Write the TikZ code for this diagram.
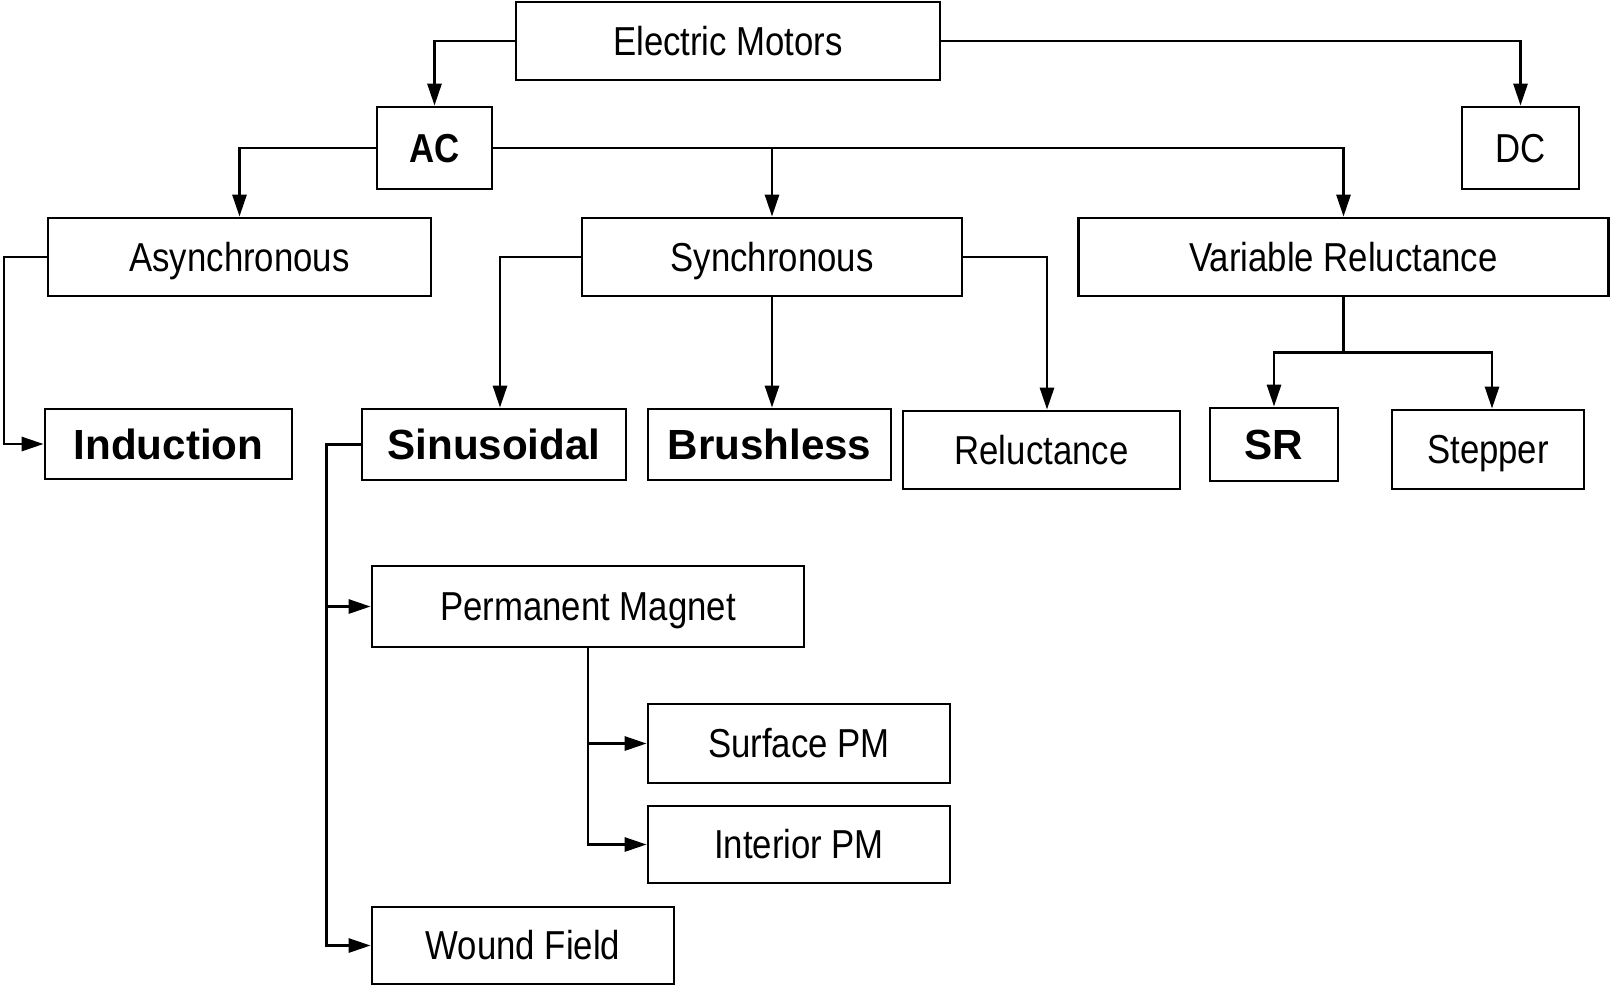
\documentclass[tikz,border=0pt]{standalone}
\usepackage{fontspec}
\setmainfont{Liberation Sans}
\newfontfamily\narrowsf{Liberation Sans}[FakeStretch=0.86]
\usepackage{tikz}
\usetikzlibrary{arrows.meta}
\usepackage{xcolor}

\begin{document}
\begin{tikzpicture}[x=0.02cm,y=-0.02cm,>={Triangle[length=0.44cm,width=0.28cm]},
  box/.style={draw,line width=1.6pt,inner sep=0pt},
  lbl/.style={box,font=\narrowsf\fontsize{23}{26}\selectfont,text height=20pt,text depth=3.6pt},
  blbl/.style={box,font=\bfseries\fontsize{24}{28}\selectfont,text height=21pt,text depth=3.8pt},
  conn/.style={line width=1.6pt}]
\useasboundingbox (0,0) rectangle (1612,985);
\node[lbl,minimum width=8.48cm,minimum height=1.56cm] (EM) at (728,41) {Electric Motors};
\node[lbl,font=\narrowsf\bfseries\fontsize{23}{26}\selectfont,minimum width=2.3cm,minimum height=1.64cm] (AC) at (434.5,148) {AC};
\node[lbl,minimum width=2.34cm,minimum height=1.64cm] (DC) at (1520.5,148) {DC};
\node[lbl,minimum width=7.66cm,minimum height=1.56cm] (Async) at (239.5,257) {Asynchronous};
\node[lbl,minimum width=7.6cm,minimum height=1.56cm] (Sync) at (772,257) {Synchronous};
\node[lbl,minimum width=10.6cm,minimum height=1.56cm] (VR) at (1343.5,257) {Variable Reluctance};
\node[blbl,minimum width=4.94cm,minimum height=1.4cm] (Ind) at (168.5,444) {Induction};
\node[blbl,minimum width=5.28cm,minimum height=1.42cm] (Sinus) at (494,444.5) {Sinusoidal};
\node[blbl,minimum width=4.86cm,minimum height=1.42cm] (Brush) at (769.5,444.5) {Brushless};
\node[lbl,minimum width=5.54cm,minimum height=1.56cm] (Rel) at (1041.5,450) {Reluctance};
\node[blbl,minimum width=2.56cm,minimum height=1.46cm] (SR) at (1274,444.5) {SR};
\node[lbl,minimum width=3.84cm,minimum height=1.58cm] (Step) at (1488,449.5) {Stepper};
\node[lbl,minimum width=8.64cm,minimum height=1.62cm] (PM) at (588,606.5) {Permanent Magnet};
\node[lbl,minimum width=6.04cm,minimum height=1.58cm] (Surf) at (799,743.5) {Surface PM};
\node[lbl,minimum width=6.04cm,minimum height=1.54cm] (Int) at (799,844.5) {Interior PM};
\node[lbl,minimum width=6.04cm,minimum height=1.54cm] (Wound) at (523,945.5) {Wound Field};
\coordinate (indx) at (4,0);
\coordinate (sinbend) at ([xshift=-0.68cm]Sinus.west);
\coordinate (vrsplit) at ([yshift=-1.1cm]VR.south);
\draw[conn,->] (EM.west) -| (AC.north);
\draw[conn,->] (EM.east) -| (DC.north);
\draw[conn,->] (AC.west) -| (Async.north);
\draw[conn,->] (AC.east) -| (Sync.north);
\draw[conn,->] (AC.east) -| (VR.north);
\draw[conn,->] (Async.west) -| (indx |- Ind.west) -- (Ind.west);
\draw[conn,->] (Sync.west) -| ([xshift=0.12cm]Sinus.north);
\draw[conn,->] (Sync.south) -- (Sync.south |- Brush.north);
\draw[conn,->] (Sync.east) -| ([xshift=0.11cm]Rel.north);
\draw[conn] (VR.south) -- (vrsplit);
\draw[conn,->] (vrsplit) -| (SR.north);
\draw[conn,->] (vrsplit) -| ([xshift=0.08cm]Step.north);
\draw[conn,->] (Sinus.west) -- (sinbend) |- (Wound.west);
\draw[conn,->] (sinbend) |- (PM.west);
\draw[conn,->] (PM.south) |- (Surf.west);
\draw[conn,->] (PM.south) |- (Int.west);
\end{tikzpicture}
\end{document}
